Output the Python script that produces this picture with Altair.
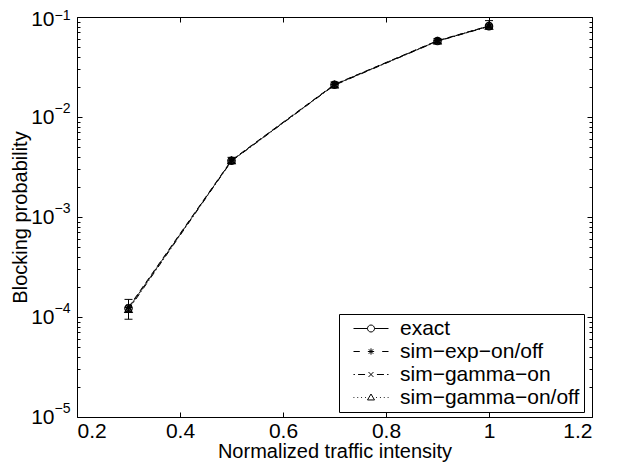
import altair as alt
import pandas as pd

# ---- data ----
x_vals = [0.3, 0.5, 0.7, 0.9, 1.0]
series_names = ["exact", "sim−exp−on/off", "sim−gamma−on", "sim−gamma−on/off"]
exact = [1.22e-4, 3.65e-3, 0.0210, 0.0575, 0.0810]
sim_exp = [1.25e-4, 3.70e-3, 0.0212, 0.0580, 0.0815]
sim_gamma_on = [1.18e-4, 3.62e-3, 0.0208, 0.0572, 0.0805]
sim_gamma_onoff = [1.20e-4, 3.68e-3, 0.0211, 0.0578, 0.0812]
err_lo = [0.95e-4, 3.45e-3, 0.0198, 0.0545, 0.0760]
err_hi = [1.50e-4, 3.95e-3, 0.0224, 0.0610, 0.0920]

x_ticks = [0.2, 0.4, 0.6, 0.8, 1.0, 1.2]
y_ticks = [1e-5, 1e-4, 1e-3, 1e-2, 1e-1]
y_exponents = ["0", "−1", "−2", "−3", "−4", "−5"]
y_minor = [k * d for d in [1e-5, 1e-4, 1e-3, 1e-2] for k in range(2, 10)]

# ---- styling ----
FONT = "Liberation Sans"
W, H = 515, 400

line_dashes = [[1, 0], [6, 4], [6, 3, 1, 3], [1, 3]]
marker_shapes = [
    "circle",
    "M-1,0L1,0M0,-1L0,1M-0.7,-0.7L0.7,0.7M-0.7,0.7L0.7,-0.7",
    "M-0.8,-0.8L0.8,0.8M-0.8,0.8L0.8,-0.8",
    "triangle-up",
]
legend_paths = [
    "M0,0L2,0M3,0L5,0M3,0A0.5,0.5 0 1,1 2,0A0.5,0.5 0 1,1 3,0",
    "M0,0L0.9,0M4.1,0L5,0M2.05,0L2.95,0M2.5,-0.45L2.5,0.45M2.18,-0.32L2.82,0.32M2.18,0.32L2.82,-0.32",
    "M0,0L0.2,0M0.65,0L1.65,0M3.35,0L4.35,0M4.8,0L5,0M2.15,-0.35L2.85,0.35M2.15,0.35L2.85,-0.35",
    "M0,0L0.12,0M0.55,0L0.67,0M1.1,0L1.22,0M1.65,0L1.77,0M3.23,0L3.35,0M3.78,0L3.9,0M4.33,0L4.45,0M4.88,0L5,0"
    "M2.5,-0.5L3,0.35L2,0.35Z",
]

rows = []
for name, vals in zip(series_names, [exact, sim_exp, sim_gamma_on, sim_gamma_onoff]):
    for xv, yv in zip(x_vals, vals):
        rows.append({"series": name, "x": xv, "y": yv})
df = pd.DataFrame(rows)
err_df = pd.DataFrame({"x": x_vals, "lo": err_lo, "hi": err_hi})

xs = alt.Scale(domain=[0.2, 1.2], nice=False, zero=False)
ys = alt.Scale(type="log", domain=[1e-5, 1e-1], nice=False)

exp_list = "[" + ",".join("'" + e + "'" for e in y_exponents) + "]"
exp_label_expr = exp_list + "[round(-log(datum.value)/LN10)]"
TOP_TEST = "datum.value > 0.05"

lines = alt.Chart(df).mark_line(strokeWidth=1, color="black").encode(
    x=alt.X("x:Q", scale=xs, axis=alt.Axis(
        orient="bottom", values=x_ticks, format="~g", tickSize=0, labelPadding=3,
        labelFontSize=21, title="Normalized traffic intensity", titlePadding=0)),
    y=alt.Y("y:Q", scale=ys, axis=alt.Axis(
        orient="left", values=y_ticks, labelExpr="'10'", tickSize=0, labelPadding=23,
        labelFontSize=21,
        labelOffset={"condition": {"test": TOP_TEST, "value": 2}, "value": 0},
        title="Blocking probability", titlePadding=0)),
    strokeDash=alt.StrokeDash("series:N", scale=alt.Scale(domain=series_names, range=line_dashes),
                              legend=None),
    detail="series:N",
)

points = alt.Chart(df).mark_point(filled=False, size=55, strokeWidth=1.2, color="black", opacity=1).encode(
    x=alt.X("x:Q", scale=xs, axis=alt.Axis(
        orient="top", offset=-H, values=x_ticks, labels=False, tickSize=5, title=None)),
    y=alt.Y("y:Q", scale=ys, axis=alt.Axis(
        orient="right", offset=-W, values=y_ticks, labels=False, tickSize=5, title=None)),
    shape=alt.Shape("series:N", scale=alt.Scale(domain=series_names, range=marker_shapes), legend=None),
)

err_rules = alt.Chart(err_df).mark_rule(color="black", strokeWidth=1).encode(
    x=alt.X("x:Q", scale=xs, axis=alt.Axis(
        orient="bottom", offset=-H, values=x_ticks, labels=False, tickSize=5, title=None)),
    y=alt.Y("lo:Q", scale=ys, axis=alt.Axis(
        orient="left", offset=-W, values=y_ticks, labels=False, tickSize=5, title=None)),
    y2="hi:Q",
)

err_caps = alt.Chart(err_df).transform_fold(["lo", "hi"], as_=["end", "val"]).mark_tick(
    orient="horizontal", size=8, thickness=1, color="black", opacity=1).encode(
    x=alt.X("x:Q", scale=xs, axis=None),
    y=alt.Y("val:Q", scale=ys, axis=alt.Axis(
        orient="right", offset=-W, values=y_minor, labels=False, tickSize=3, title=None)),
)

exp_layer = alt.Chart(df).transform_filter("false").mark_point(opacity=0).encode(
    x=alt.X("x:Q", scale=xs, axis=None),
    y=alt.Y("y:Q", scale=ys, axis=alt.Axis(
        orient="left", values=y_ticks, labelExpr=exp_label_expr, tickSize=0, labelPadding=7,
        labelFontSize=14,
        labelOffset={"condition": {"test": TOP_TEST, "value": -2}, "value": -9},
        title=None)),
)

legend_layer = alt.Chart(df).transform_filter("false").mark_point(
    filled=False, color="black", size=196, opacity=1).encode(
    x=alt.X("x:Q", scale=xs, axis=None),
    y=alt.Y("y:Q", scale=ys, axis=alt.Axis(
        orient="left", offset=-W, values=y_minor, labels=False, tickSize=3, title=None)),
    shape=alt.Shape("series:N", scale=alt.Scale(domain=series_names, range=legend_paths),
                    legend=alt.Legend(
                        title=None, orient="none", legendX=262, legendY=297,
                        padding=4, strokeColor="black", fillColor="white", cornerRadius=0,
                        symbolSize=196, symbolStrokeColor="black", symbolFillColor="transparent",
                        symbolStrokeWidth=1, symbolOpacity=1, labelFont=FONT, labelFontSize=21,
                        labelColor="black", labelOffset=36, rowPadding=1, labelLimit=400)),
)

chart = alt.layer(lines, points, err_rules, err_caps, exp_layer, legend_layer).resolve_scale(
    shape="independent", strokeDash="independent"
).resolve_axis(x="independent", y="independent").properties(
    width=W, height=H,
    autosize=alt.AutoSizeParams(type="none"),
    padding={"left": 69, "top": 9, "right": 18, "bottom": 45},
    background="white",
).configure_view(stroke="black", strokeWidth=1).configure_axis(
    grid=False, domain=False, tickColor="black", tickWidth=1,
    labelFont=FONT, labelFontSize=21, labelColor="black",
    titleFont=FONT, titleFontSize=20, titleColor="black", titleFontWeight="normal",
)

chart.save("out.html", embed_options={"renderer": "svg", "actions": False})
